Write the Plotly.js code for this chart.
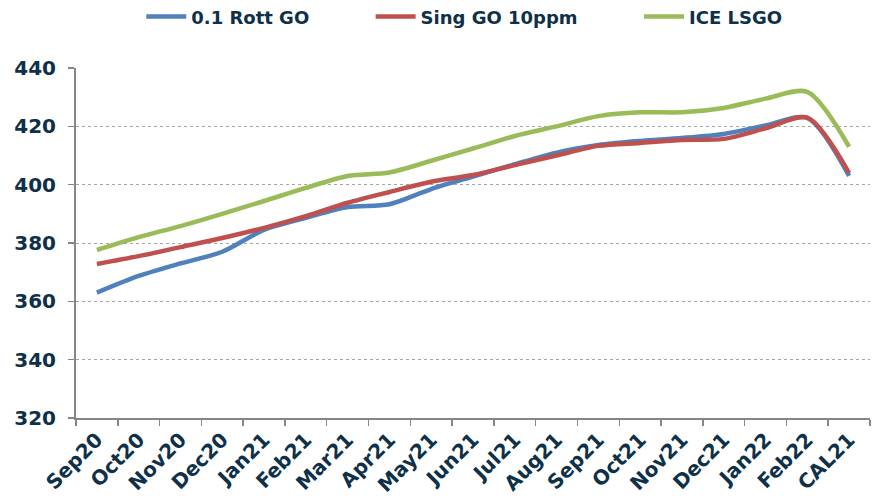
<!DOCTYPE html>
<html>
<head>
<meta charset="utf-8">
<script src="https://cdn.plot.ly/plotly-3.0.1.min.js"></script>
<style>html,body{margin:0;padding:0;background:#fff}#chart{width:875px;height:500px}</style>
</head>
<body>
<div id="chart"></div>
<script>
const categories = ["Sep20","Oct20","Nov20","Dec20","Jan21","Feb21","Mar21","Apr21","May21","Jun21","Jul21","Aug21","Sep21","Oct21","Nov21","Dec21","Jan22","Feb22","CAL21"];
const rottGO = [363, 368.7, 373, 377, 384.5, 388.6, 392.3, 393.3, 398.5, 402.8, 407, 411, 413.6, 415, 416, 417.4, 420.3, 422.9, 403];
const singGO = [372.8, 375.5, 378.6, 381.7, 385.2, 389.2, 393.8, 397.5, 401, 403.3, 406.7, 410, 413.3, 414.3, 415.3, 415.7, 419.3, 423, 404];
const iceLSGO = [377.6, 382, 385.8, 390, 394.4, 398.9, 403, 404.2, 408.2, 412.4, 416.7, 420, 423.5, 424.8, 424.8, 426.3, 429.5, 431.8, 413];
const seriesNames = ["0.1 Rott GO", "Sing GO 10ppm", "ICE LSGO"];
const yTicks = [320, 340, 360, 380, 400, 420, 440];

const navy = "#0E3048";
const font = "DejaVu Sans, Verdana, sans-serif";
const pad = "\u00A0".repeat(9);
function tr(name, y, color) {
  return {x: categories, y: y, name: name, type: "scatter", mode: "lines",
    line: {color: color, width: 4.5, shape: "spline", smoothing: 0.8}};
}
const data = [
  tr(seriesNames[0] + pad, rottGO, "#4F81BD"),
  tr(seriesNames[1] + pad, singGO, "#C0504D"),
  tr(seriesNames[2], iceLSGO, "#9BBB59")
];
const layout = {
  width: 875, height: 500,
  margin: {l: 76, r: 5, t: 68, b: 82, autoexpand: false},
  paper_bgcolor: "#fff", plot_bgcolor: "#fff",
  showlegend: true,
  legend: {orientation: "h", x: 0.489, xanchor: "center", y: 1.146, yanchor: "middle",
    font: {family: font, size: 18, color: navy, weight: "bold"}, itemwidth: 40, tracegroupgap: 0},
  xaxis: {type: "category", range: [-0.5, 18.5], tickangle: -45,
    tickson: "boundaries", ticks: "outside", ticklen: 6, tickcolor: "#868686", tickwidth: 1.5,
    showline: true, linecolor: "#868686", linewidth: 2, showgrid: false, zeroline: false,
    tickfont: {family: font, size: 20, color: navy, weight: "bold"}, fixedrange: true},
  yaxis: {range: [320, 440], tickvals: yTicks, ticks: "outside", ticklen: 6, tickcolor: "#868686", tickwidth: 1.5,
    showline: true, linecolor: "#868686", linewidth: 2, ticklabelstandoff: 8,
    showgrid: true, gridcolor: "#A6A6A6", gridwidth: 1, griddash: "dot", zeroline: false,
    tickfont: {family: font, size: 20, color: navy, weight: "bold"}, fixedrange: true}
};
Plotly.newPlot("chart", data, layout, {displayModeBar: false, staticPlot: true});
</script>
</body>
</html>
